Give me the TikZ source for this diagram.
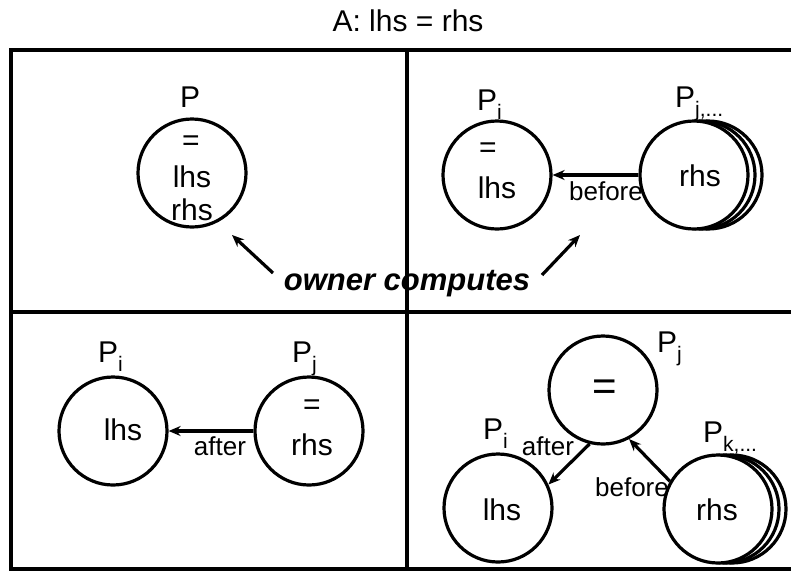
\documentclass[tikz,border=0pt]{standalone}
\usepackage{fontspec}
\setmainfont{Liberation Sans}
\usetikzlibrary{arrows.meta}
\newcommand\subtxt[1]{\raisebox{-0.3em}{\fontsize{21}{21}\selectfont #1}}
\begin{document}
\begin{tikzpicture}[x=1pt,y=-1pt,
 circ/.style={circle,draw,line width=3.2pt,fill=white,minimum size=108pt,inner sep=0pt},
 txt/.style={font=\fontsize{30}{34}\selectfont,inner sep=0pt},
 bigeq/.style={font=\fontsize{42}{44}\selectfont,inner sep=0pt},
 lbl/.style={font=\fontsize{26}{28}\selectfont,inner sep=0pt},
 plab/.style={font=\fontsize{30}{32}\selectfont,inner sep=0pt,anchor=base west},
 arr/.style={line width=3.2pt,-{Stealth[length=12pt,width=10pt]}},
 frame/.style={line width=3.8pt}]
\useasboundingbox (0,0) rectangle (791,571);
% frame
\coordinate (tl) at (11,50);
\coordinate (tr) at (791,50);
\coordinate (bl) at (11,569);
\coordinate (br) at (791,569);
\coordinate (mt) at (407,50);
\coordinate (mb) at (407,569);
\coordinate (ml) at (11,312);
\coordinate (mr) at (791,312);
\draw[frame] (tr) -- (tl) -- (bl) -- (br);
\draw[frame] (mt) -- (mb);
\draw[frame] (ml) -- (mr);
% title
\node[txt] (title) at (408,21) {A: lhs = rhs};
% top-left
\node[circ] (p) at (192,173) {};
\node[plab] (plab) at (180,107) {P};
\node[txt] (peq) at (191,143) {=};
\node[txt] (plhs) at (192,177) {lhs};
\node[txt] (prhs) at (192,210) {rhs};
% top-right
\node[circ] (ti) at (497,175) {};
\node[plab] (tilab) at (477,110) {P\subtxt{i}};
\node[txt] (tieq) at (488,150) {=};
\node[txt] (tilhs) at (497,188) {lhs};
\node[circ] (tj3) at (708,175) {};
\node[circ] (tj2) at (701,175) {};
\node[circ] (tj) at (694,175) {};
\node[plab] (tjlab) at (675,107) {P\subtxt{j,...}};
\node[txt] (tjrhs) at (700,176) {rhs};
\draw[arr] (tj) -- (ti);
\node[lbl] (tbefore) at (606,191) {before};
% owner computes
\node[font=\fontsize{31}{33}\selectfont\bfseries\itshape,inner sep=0pt] (oc) at (407,284) {owner computes};
\coordinate (oa1) at (273,273);
\coordinate (ot1) at (232,235);
\coordinate (oa2) at (542,275);
\coordinate (ot2) at (580,235);
\draw[arr] (oa1) -- (ot1);
\draw[arr] (oa2) -- (ot2);
% bottom-left
\node[circ] (bi) at (113,431) {};
\node[plab] (bilab) at (98,362) {P\subtxt{i}};
\node[txt] (bilhs) at (123,430) {lhs};
\node[circ] (bj) at (309,431) {};
\node[plab] (bjlab) at (292,362) {P\subtxt{j}};
\node[txt] (bjeq) at (312,407) {=};
\node[txt] (bjrhs) at (312,445) {rhs};
\draw[arr] (bj) -- (bi);
\node[lbl] (bafter) at (220,446) {after};
% bottom-right
\node[circ] (eq) at (603,390) {};
\node[bigeq] (eqs) at (605,390) {=};
\node[plab] (eqlab) at (657,352) {P\subtxt{j}};
\node[circ] (ri) at (498,508) {};
\node[plab] (rilab) at (483,439) {P\subtxt{i}};
\node[txt] (rilhs) at (502,510) {lhs};
\node[circ] (rk3) at (732,509) {};
\node[circ] (rk2) at (725,509) {};
\node[circ] (rk) at (718,509) {};
\node[plab] (rklab) at (703,442) {P\subtxt{k,...}};
\node[txt] (rkrhs) at (717,510) {rhs};
\draw[arr] (eq.256) -- (ri.25);
\draw[arr] (rk.150) -- (eq.298);
\node[lbl] (rafter) at (548,446) {after};
\node[lbl] (rbefore) at (632,487) {before};
\end{tikzpicture}
\end{document}
